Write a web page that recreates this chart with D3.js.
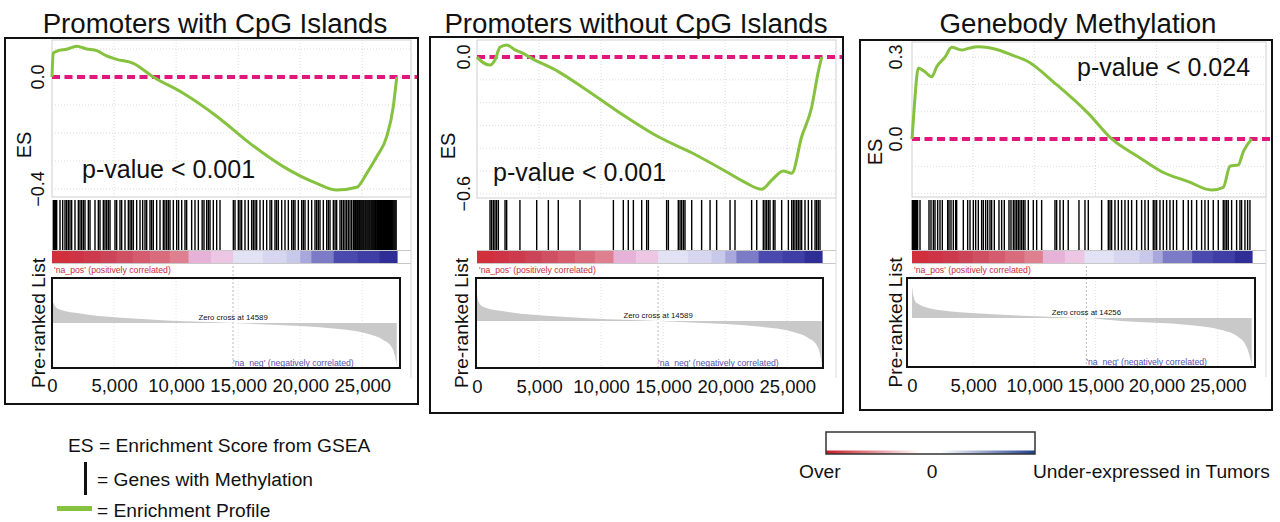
<!DOCTYPE html>
<html>
<head>
<meta charset="utf-8">
<script src="https://cdn.jsdelivr.net/npm/d3@7/dist/d3.min.js"></script>
<style>
body { margin: 0; background: #fff; }
svg text { font-family: "Liberation Sans", Arial, sans-serif; fill: #111; }
</style>
</head>
<body>
<script>
// Chart values
var titles = ["Promoters with CpG Islands", "Promoters without CpG Islands", "Genebody Methylation"];
var pValues = ["p-value < 0.001", "p-value < 0.001", "p-value < 0.024"];
var rankTicks = [0, 5000, 10000, 15000, 20000, 25000];
var listSize = 27800;
var zeroCross = [14589, 14589, 14256];
var esTicks = [[0.0, -0.4], [0.0, -0.6], [0.3, 0.0]];
var esGrid = [
    [0.1, 0, -0.1, -0.2, -0.3, -0.4],
    [0, -0.1, -0.2, -0.3, -0.4, -0.5, -0.6],
    [0.3, 0.2, 0.1, 0, -0.1, -0.2]
];

// running enrichment score (rank, ES)
var esRank1 = [0, 100, 510, 1180, 1990, 2800, 3600, 4400, 5210, 6550, 8160, 10580, 13270, 15950, 18640, 21330, 22940, 24550, 25360, 26160, 26970, 27500, 27780];
var esScore1 = [0.0, 0.085, 0.094, 0.099, 0.11, 0.10, 0.094, 0.075, 0.063, 0.049, 0.0, -0.058, -0.14, -0.237, -0.32, -0.38, -0.404, -0.394, -0.344, -0.285, -0.213, -0.106, 0.0];
var esRank2 = [0, 100, 1050, 1450, 1850, 2390, 3060, 3600, 4410, 6550, 8440, 11930, 14610, 17300, 19990, 21600, 22940, 23750, 24680, 25360, 26160, 26970, 27500, 27780];
var esScore2 = [0, -0.006, -0.035, -0.013, 0.043, 0.053, 0.031, 0.019, -0.006, -0.064, -0.13, -0.26, -0.35, -0.42, -0.50, -0.55, -0.58, -0.54, -0.50, -0.51, -0.35, -0.22, -0.064, 0.0];
var esRank3 = [0, 190, 520, 1060, 1610, 2020, 2700, 3250, 4060, 4600, 5420, 7060, 8150, 9510, 11690, 14410, 16330, 18500, 20420, 22590, 24500, 25450, 26000, 26680, 27090, 27780];
var esScore3 = [0, 0.12, 0.26, 0.246, 0.228, 0.265, 0.30, 0.336, 0.326, 0.332, 0.338, 0.326, 0.308, 0.283, 0.204, 0.094, 0.0, -0.065, -0.12, -0.156, -0.187, -0.177, -0.10, -0.095, -0.046, 0.0];

// ranks of genes with methylation
var hits1 = [107, 180, 242, 300, 376, 645, 860, 1048, 1180, 1316, 1450, 1585, 1853, 2122, 2256, 2390, 2525, 2659, 2928, 3062, 3465, 3734, 3868, 4136, 4270, 4405, 4540, 4674, 5077, 5211, 5479, 5614, 5882, 6151, 6290, 6420, 6554, 6822, 7091, 7306, 7494, 7628, 7897, 8030, 8165, 8434, 8703, 8971, 9100, 9240, 9374, 9508, 9777, 10046, 10200, 10449, 10717, 10850, 11254, 11523, 11792, 12100, 12248, 12463, 12600, 12732, 13000, 13269, 13537,
    14612, 14746, 15015, 15150, 15283, 15552, 15821, 16089, 16223, 16360, 16492, 16761, 17029, 17298, 17566, 17701, 17969, 18100, 18238, 18507, 18775, 19044, 19313, 19450, 19581, 19850, 20118, 20250, 20387, 20656, 20924, 21193, 21327, 21460, 21595, 21864, 22133, 22270, 22401, 22670, 22810, 22938, 23207, 23340, 23476, 23610, 23744, 23880, 24013, 24150,
    24290, 24350, 24440, 24510, 24600, 24670, 24760, 24830, 24910, 24990, 25070, 25140, 25230, 25300, 25380, 25460, 25540, 25610, 25700, 25770, 25850, 25930, 26010, 26080, 26170, 26240, 26320, 26400, 26480, 26550, 26640, 26710, 26790, 26870, 26950, 27020, 27110, 27180, 27260, 27340, 27420, 27490, 27570, 27650, 27730];
var hits2 = [1050, 1180, 1320, 1450, 1580, 1720, 2260, 2390, 3460, 4810, 5750, 6550, 8300, 10990, 11790, 12190, 12600, 13270, 13670, 13810, 15280, 15420, 16220, 16360, 16490, 16630, 16760, 17300, 18100, 18780, 19310, 20390, 20790, 22130, 22540, 23070, 23210, 23340, 23480, 23610, 23880, 24010, 24550, 25090, 25360, 25490, 25620, 25760, 25890, 26030, 26160, 26430, 26700, 26970, 27240, 27370, 27500, 27640];
var hits3 = [27, 100, 136, 200, 245, 300, 354, 410, 463, 654, 1390, 1553, 1744, 1880, 2098, 2289, 2480, 2916, 3025, 3188, 3379, 3570, 3652, 4196, 4551, 4742, 5014, 5205, 5423, 5695, 5832, 6022, 6186, 6377, 6513, 6731, 7112, 7330, 7548, 7930, 8093, 8284, 8420, 8557, 8693, 8829, 8965, 9102, 9238, 9510, 9919, 10192, 10600, 11690, 11827, 12099, 12372, 12774, 13652, 14143, 14415, 15505, 16050, 16187, 16323, 16595, 16868, 17140, 17413, 17685, 17958, 18366, 18775, 19048, 19320, 19729, 19865, 20002, 20274, 20547, 20819, 21092, 21364, 21637, 22182, 22590, 22863, 23272, 23680, 23953, 24225, 24634, 25043, 25452, 25588, 25724, 25860, 26133, 26541, 26814, 26950, 27223, 27441, 27632];

// heat strip bands (start rank, colour)
var strip12 = [[0, "#d22f3d"], [1400, "#cf3446"], [2600, "#cd3a4d"], [3900, "#cc4458"], [5200, "#cf4f63"], [6500, "#d45c6e"], [7900, "#d86c7c"], [9500, "#de8090"], [11000, "#e6b2d8"], [12800, "#edc6e4"], [14600, "#e2e2f5"], [17000, "#d6d6f0"], [18900, "#c8c8ea"], [20000, "#a8a8dc"], [20900, "#7c7cc6"], [22700, "#4a4aae"], [24600, "#3e3ea6"], [26400, "#2e2e96"]];
var strip3 = [[0, "#d22f3d"], [1300, "#cf3446"], [2500, "#cd3a4d"], [3800, "#cc4458"], [5000, "#cf4f63"], [6300, "#d45c6e"], [7600, "#d86c7c"], [9200, "#de8090"], [10700, "#e6b2d8"], [12500, "#edc6e4"], [14100, "#e2e2f5"], [16500, "#d6d6f0"], [18600, "#c8c8ea"], [19700, "#a8a8dc"], [20500, "#7c7cc6"], [22900, "#4a4aae"], [24600, "#3e3ea6"], [26400, "#2e2e96"]];

// ranked list metric (rank, value)
var metricRank12 = [0, 100, 510, 2525, 6554, 11926, 14589, 17298, 22670, 25356, 26700, 27370, 27640, 27780];
var metricValue12 = [2.7, 2.0, 1.4, 0.9, 0.45, 0.12, 0, -0.15, -0.55, -1.05, -1.7, -2.4, -3.3, -4.3];
var metricRank3 = [0, 100, 381, 2153, 6240, 11690, 14256, 17140, 22590, 25320, 26680, 27360, 27630, 27780];
var metricValue3 = [3.1, 2.3, 1.5, 0.8, 0.4, 0.1, 0, -0.3, -0.7, -1.2, -1.9, -2.9, -3.9, -4.7];


// Layout of the three GSEA panels
var layout = [
    {frame: [5, 38, 418, 404], x0: 52, x1: 397, right: 411, es: [40, 197], esDomain: [-0.4286, 0.1321],
     box: [52, 278, 400, 368], boxDomain: [-4.5, 4.5], titleX: 215, pX: 82, pY: 178,
     esLabel: [31, 145], tickX: 44, listX: 45, xLabelY: 392},
    {frame: [430, 37, 843, 413], x0: 477, x1: 822, right: 836, es: [40, 198], esDomain: [-0.6184, 0.0746],
     box: [476, 278, 823, 368], boxDomain: [-4.7, 4.3], titleX: 636, pX: 493, pY: 181,
     esLabel: [455, 146], tickX: 470, listX: 468, xLabelY: 393},
    {frame: [860, 40, 1272, 410], x0: 912, x1: 1252, right: 1266, es: [42, 197], esDomain: [-0.2125, 0.3553],
     box: [907, 278, 1255, 367], boxDomain: [-4.9, 4.0], titleX: 1078, pX: 1077, pY: 76,
     esLabel: [882, 152], tickX: 902, listX: 902, xLabelY: 392}
];

var panelData = [
    {esRank: esRank1, esScore: esScore1, hits: hits1, strip: strip12, mRank: metricRank12, mValue: metricValue12},
    {esRank: esRank2, esScore: esScore2, hits: hits2, strip: strip12, mRank: metricRank12, mValue: metricValue12},
    {esRank: esRank3, esScore: esScore3, hits: hits3, strip: strip3, mRank: metricRank3, mValue: metricValue3}
];

var GREEN = "#86c23f";
var PINK = "#e2177e";
var HIT_TOP = 200, HIT_BOTTOM = 250, STRIP_TOP = 251, STRIP_BOTTOM = 263;

var svg = d3.select("body").append("svg")
    .attr("width", 1280)
    .attr("height", 522);


var zip = function(a, b) {
    return a.map(function(d, i) { return [d, b[i]]; });
};


var drawPanel = function(i) {
    var L = layout[i];
    var D = panelData[i];
    var g = svg.append("g").attr("class", "panel");

    var x = d3.scaleLinear().domain([0, listSize]).range([L.x0, L.x1]);
    var y = d3.scaleLinear().domain(L.esDomain).range([L.es[1], L.es[0]]);
    var ym = d3.scaleLinear().domain(L.boxDomain).range([L.box[3], L.box[1]]);

    g.append("text")
        .attr("x", L.titleX)
        .attr("y", 33)
        .attr("text-anchor", "middle")
        .style("font-size", "27.7px")
        .text(titles[i]);

    // ES area
    g.append("rect")
        .attr("x", L.x0).attr("y", L.es[0])
        .attr("width", L.right - L.x0).attr("height", L.es[1] - L.es[0])
        .attr("fill", "#fff").attr("stroke", "#cfcfcf");

    g.selectAll(".vgrid")
        .data(rankTicks.slice(1))
        .enter()
        .append("line")
        .attr("x1", x).attr("x2", x)
        .attr("y1", L.es[0]).attr("y2", L.es[1])
        .attr("stroke", "#dcdcdc")
        .attr("stroke-dasharray", "1,2");

    g.selectAll(".hgrid")
        .data(esGrid[i])
        .enter()
        .append("line")
        .attr("x1", L.x0).attr("x2", L.right)
        .attr("y1", y).attr("y2", y)
        .attr("stroke", "#dcdcdc")
        .attr("stroke-dasharray", "1,2");

    g.append("line")
        .attr("x1", L.x0).attr("x2", L.frame[2] - 1)
        .attr("y1", y(0)).attr("y2", y(0))
        .attr("stroke", PINK)
        .attr("stroke-width", 4)
        .attr("stroke-dasharray", "8,4.5");

    var line = d3.line()
        .x(function(d) { return x(d[0]); })
        .y(function(d) { return y(d[1]); })
        .curve(d3.curveMonotoneX);

    g.append("path")
        .datum(zip(D.esRank, D.esScore))
        .attr("d", line)
        .attr("fill", "none")
        .attr("stroke", GREEN)
        .attr("stroke-width", 3)
        .attr("stroke-linejoin", "round");

    // hits
    g.selectAll(".hit")
        .data(D.hits)
        .enter()
        .append("line")
        .attr("class", "hit")
        .attr("x1", x).attr("x2", x)
        .attr("y1", HIT_TOP).attr("y2", HIT_BOTTOM)
        .attr("stroke", "#000")
        .attr("stroke-width", 1.4);

    // heat strip
    g.selectAll(".band")
        .data(D.strip)
        .enter()
        .append("rect")
        .attr("x", function(d) { return x(d[0]); })
        .attr("y", STRIP_TOP)
        .attr("width", function(d, j) {
            var end = j < D.strip.length - 1 ? D.strip[j + 1][0] : listSize;
            return x(end) - x(d[0]) + 0.6;
        })
        .attr("height", STRIP_BOTTOM - STRIP_TOP)
        .attr("fill", function(d) { return d[1]; });

    [STRIP_TOP - 0.5, STRIP_BOTTOM + 0.5].forEach(function(yy) {
        g.append("line")
            .attr("x1", L.x0).attr("x2", L.right)
            .attr("y1", yy).attr("y2", yy)
            .attr("stroke", "#c8c8c8");
    });
    g.append("line")
        .attr("x1", L.right).attr("x2", L.right)
        .attr("y1", L.es[1]).attr("y2", L.box[3] + 10)
        .attr("stroke", "#dadada");

    g.append("text")
        .attr("x", L.x0 + 2)
        .attr("y", 273)
        .style("font-size", "8.7px")
        .style("fill", "#cc2a3a")
        .text("'na_pos' (positively correlated)");

    // ranked list
    g.selectAll(".mgrid")
        .data(rankTicks.slice(1))
        .enter()
        .append("line")
        .attr("x1", x).attr("x2", x)
        .attr("y1", L.box[1]).attr("y2", L.box[3])
        .attr("stroke", "#e2e2e2")
        .attr("stroke-dasharray", "1,2");

    var area = d3.area()
        .x(function(d) { return x(d[0]); })
        .y0(ym(0))
        .y1(function(d) { return ym(d[1]); })
        .curve(d3.curveMonotoneX);

    g.append("path")
        .datum(zip(D.mRank, D.mValue))
        .attr("d", area)
        .attr("fill", "#c9c9c9");

    g.append("line")
        .attr("x1", x(zeroCross[i])).attr("x2", x(zeroCross[i]))
        .attr("y1", 266).attr("y2", L.box[3])
        .attr("stroke", "#bbb")
        .attr("stroke-dasharray", "2,2");

    g.append("text")
        .attr("x", x(zeroCross[i]))
        .attr("y", ym(0) - 3)
        .attr("text-anchor", "middle")
        .style("font-size", "7.8px")
        .text("Zero cross at " + zeroCross[i]);

    g.append("text")
        .attr("x", x(zeroCross[i]))
        .attr("y", L.box[3] - 2)
        .style("font-size", "8.7px")
        .style("fill", "#5555b0")
        .text("'na_neg' (negatively correlated)");

    g.append("rect")
        .attr("x", L.box[0]).attr("y", L.box[1])
        .attr("width", L.box[2] - L.box[0]).attr("height", L.box[3] - L.box[1])
        .attr("fill", "none")
        .attr("stroke", "#111")
        .attr("stroke-width", 2);

    // axes text
    var axis = d3.axisBottom(x)
        .tickValues(rankTicks)
        .tickFormat(d3.format(","))
        .tickSize(0)
        .tickPadding(0);
    var ax = g.append("g")
        .attr("transform", "translate(0," + L.xLabelY + ")")
        .call(axis);
    ax.select(".domain").remove();
    ax.selectAll("text")
        .attr("y", 0).attr("dy", null)
        .attr("font-family", null)
        .style("font-size", "18.5px")
        .style("fill", "#111");
    ax.attr("font-family", null).attr("font-size", null);

    g.selectAll(".estick")
        .data(esTicks[i])
        .enter()
        .append("text")
        .attr("transform", function(d) { return "translate(" + L.tickX + "," + y(d) + ") rotate(-90)"; })
        .attr("text-anchor", "middle")
        .style("font-size", "18px")
        .text(d3.format(".1f"));

    g.append("text")
        .attr("transform", "translate(" + L.esLabel[0] + "," + L.esLabel[1] + ") rotate(-90)")
        .attr("text-anchor", "middle")
        .style("font-size", "20px")
        .text("ES");

    g.append("text")
        .attr("transform", "translate(" + L.listX + "," + ((L.box[1] + L.box[3]) / 2) + ") rotate(-90)")
        .attr("text-anchor", "middle")
        .style("font-size", "19.2px")
        .text("Pre-ranked List");

    g.append("text")
        .attr("x", L.pX).attr("y", L.pY)
        .style("font-size", "25px")
        .text(pValues[i]);

    g.append("rect")
        .attr("x", L.frame[0]).attr("y", L.frame[1])
        .attr("width", L.frame[2] - L.frame[0]).attr("height", L.frame[3] - L.frame[1])
        .attr("fill", "none")
        .attr("stroke", "#111")
        .attr("stroke-width", 2);
};


var drawLegend = function() {
    var lg = svg.append("g").style("font-size", "19.2px");
    lg.append("text").attr("x", 68).attr("y", 452).text("ES = Enrichment Score from GSEA");
    lg.append("line")
        .attr("x1", 85.5).attr("x2", 85.5).attr("y1", 462).attr("y2", 495)
        .attr("stroke", "#111").attr("stroke-width", 3);
    lg.append("text").attr("x", 97).attr("y", 486).text("= Genes with Methylation");
    lg.append("line")
        .attr("x1", 57).attr("x2", 92).attr("y1", 508.5).attr("y2", 508.5)
        .attr("stroke", GREEN).attr("stroke-width", 5);
    lg.append("text").attr("x", 97).attr("y", 517).text("= Enrichment Profile");

    var grad = svg.append("defs").append("linearGradient").attr("id", "expr");
    [[0, "#c81c24"], [0.45, "#ffffff"], [0.55, "#ffffff"], [1, "#1e3e8e"]].forEach(function(s) {
        grad.append("stop").attr("offset", s[0]).attr("stop-color", s[1]);
    });
    lg.append("rect")
        .attr("x", 826).attr("y", 450.5).attr("width", 209).attr("height", 3.5)
        .attr("fill", "url(#expr)");
    lg.append("rect")
        .attr("x", 826).attr("y", 432).attr("width", 209).attr("height", 22)
        .attr("fill", "none").attr("stroke", "#333").attr("stroke-width", 1.5);
    lg.append("text").attr("x", 799).attr("y", 478).text("Over");
    lg.append("text").attr("x", 932).attr("y", 478).attr("text-anchor", "middle").text("0");
    lg.append("text").attr("x", 1033).attr("y", 478).text("Under-expressed in Tumors");
};


[0, 1, 2].forEach(drawPanel);
drawLegend();
</script>
</body>
</html>
